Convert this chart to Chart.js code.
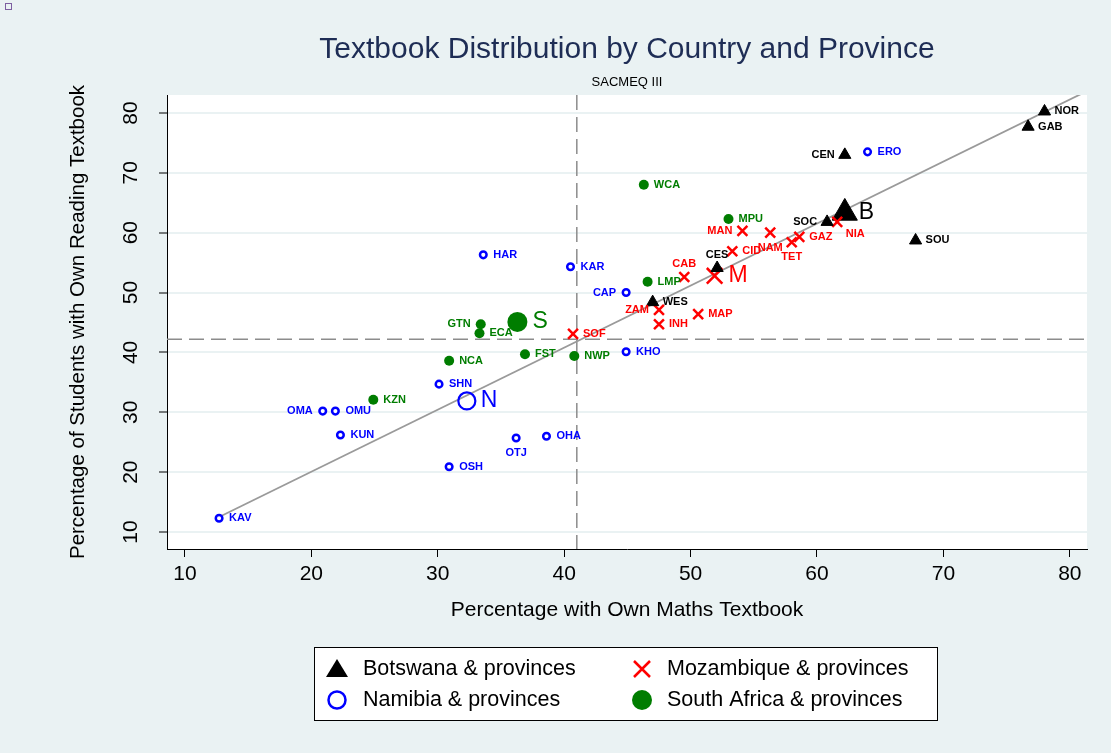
<!DOCTYPE html>
<html lang="en">
<head>
<meta charset="UTF-8">
<title>Textbook Distribution by Country and Province</title>
<script src="https://cdn.jsdelivr.net/npm/chart.js"></script>
<style>
  html, body { margin: 0; padding: 0; background: #eaf2f3; }
  #wrap { position: relative; width: 1111px; height: 753px; }
  .corner { position: absolute; left: 5px; top: 3px; width: 5px; height: 5px; border: 1.5px solid #7d5fa0; }
</style>
</head>
<body>
<div id="wrap">
  <canvas id="chart" width="1111" height="753"></canvas>
  <div class="corner"></div>
</div>
<script>
// Botswana & provinces
const botLabels = ['NOR', 'GAB', 'CEN', 'SOC', 'SOU', 'CES', 'WES'];
const botX = [78.0, 76.7, 62.2, 60.8, 67.8, 52.1, 47.0];
const botY = [80.25, 77.7, 73.0, 61.8, 58.7, 54.1, 48.4];

// Namibia & provinces
const namLabels = ['ERO', 'HAR', 'KAR', 'CAP', 'KHO', 'SHN', 'OMA', 'OMU', 'KUN', 'OTJ', 'OHA', 'OSH', 'KAV'];
const namX = [64.0, 33.6, 40.5, 44.9, 44.9, 30.1, 20.9, 21.9, 22.3, 36.2, 38.6, 30.9, 12.7];
const namY = [73.5, 56.3, 54.3, 50.0, 40.1, 34.7, 30.2, 30.2, 26.2, 25.7, 26.0, 20.9, 12.3];

// Mozambique & provinces
const mozLabels = ['MAN', 'NAM', 'CID', 'TET', 'GAZ', 'NIA', 'CAB', 'ZAM', 'INH', 'MAP', 'SOF'];
const mozX = [54.1, 56.3, 53.3, 58.0, 58.6, 61.6, 49.5, 47.5, 47.5, 50.6, 40.7];
const mozY = [60.3, 60.0, 56.9, 58.4, 59.3, 61.8, 52.6, 47.1, 44.7, 46.4, 43.1];

// South Africa & provinces
const rsaLabels = ['WCA', 'MPU', 'LMP', 'GTN', 'ECA', 'FST', 'NWP', 'NCA', 'KZN'];
const rsaX = [46.3, 53.0, 46.6, 33.4, 33.3, 36.9, 40.8, 30.9, 24.9];
const rsaY = [68.0, 62.3, 51.8, 44.7, 43.2, 39.7, 39.4, 38.6, 32.1];

// national averages (B, N, M, S)
const natLabels = ['B', 'N', 'M', 'S'];
const natX = [62.2, 32.3, 51.9, 36.3];
const natY = [63.3, 31.9, 52.8, 45.1];

// fitted line and SACMEQ reference lines
const fitX = [12.7, 81.5];
const fitY = [12.5, 83.8];
const xRef = 41.0;
const yRef = 42.2;

const xTicks = [10, 20, 30, 40, 50, 60, 70, 80];
const yTicks = [10, 20, 30, 40, 50, 60, 70, 80];

// label placement (r = right, l = left, t = above, b = below, br = below right)
const botPos = ['r', 'r', 'l', 'l', 'r', 't', 'r'];
const namPos = ['r', 'r', 'r', 'l', 'r', 'r', 'l', 'r', 'r', 'b', 'r', 'r', 'r'];
const mozPos = ['l', 'b', 'r', 'b', 'r', 'br', 't', 'l', 'r', 'r', 'r'];
const rsaPos = ['r', 'r', 'r', 'l', 'r', 'r', 'r', 'r', 'r'];

const BLUE = '#0000ff', RED = '#ff0000', GREEN = '#007d00', BLACK = '#000000';
const BG = '#eaf2f3';
const FONT = 'Arial, "Liberation Sans", sans-serif';

const pts = (xs, ys) => xs.map((x, i) => ({ x: x, y: ys[i] }));

const smallLabel = 'bold 11px ' + FONT;
const bigLabel = '23px ' + FONT;

const datasets = [
    {
        label: 'Botswana & provinces', data: pts(botX, botY),
        pointStyle: 'triangle', pointRadius: 7, backgroundColor: BLACK, borderColor: BLACK, borderWidth: 1,
        pointLabels: botLabels, labelPos: botPos, labelColor: BLACK, labelFont: smallLabel, labelOffset: 10
    },
    {
        label: 'Namibia & provinces', data: pts(namX, namY),
        pointStyle: 'circle', pointRadius: 3.3, backgroundColor: '#ffffff', borderColor: BLUE, borderWidth: 2.5,
        pointLabels: namLabels, labelPos: namPos, labelColor: BLUE, labelFont: smallLabel, labelOffset: 10
    },
    {
        label: 'Mozambique & provinces', data: pts(mozX, mozY),
        pointStyle: 'crossRot', pointRadius: 7, backgroundColor: RED, borderColor: RED, borderWidth: 2.5,
        pointLabels: mozLabels, labelPos: mozPos, labelColor: RED, labelFont: smallLabel, labelOffset: 10
    },
    {
        label: 'South Africa & provinces', data: pts(rsaX, rsaY),
        pointStyle: 'circle', pointRadius: 5, backgroundColor: GREEN, borderColor: GREEN, borderWidth: 0,
        pointLabels: rsaLabels, labelPos: rsaPos, labelColor: GREEN, labelFont: smallLabel, labelOffset: 10
    },
    {
        label: 'Botswana', data: [{ x: natX[0], y: natY[0] }],
        pointStyle: 'triangle', pointRadius: 14.5, backgroundColor: BLACK, borderColor: BLACK, borderWidth: 1,
        pointLabels: [natLabels[0]], labelPos: ['r'], labelColor: BLACK, labelFont: bigLabel, labelOffset: 14
    },
    {
        label: 'Namibia', data: [{ x: natX[1], y: natY[1] }],
        pointStyle: 'circle', pointRadius: 8.5, backgroundColor: 'rgba(255,255,255,0)', borderColor: BLUE, borderWidth: 2.2,
        pointLabels: [natLabels[1]], labelPos: ['r'], labelColor: BLUE, labelFont: bigLabel, labelOffset: 14
    },
    {
        label: 'Mozambique', data: [{ x: natX[2], y: natY[2] }],
        pointStyle: 'crossRot', pointRadius: 11, backgroundColor: RED, borderColor: RED, borderWidth: 2.5,
        pointLabels: [natLabels[2]], labelPos: ['r'], labelColor: RED, labelFont: bigLabel, labelOffset: 14
    },
    {
        label: 'South Africa', data: [{ x: natX[3], y: natY[3] }],
        pointStyle: 'circle', pointRadius: 10, backgroundColor: GREEN, borderColor: GREEN, borderWidth: 0,
        pointLabels: [natLabels[3]], labelPos: ['r'], labelColor: GREEN, labelFont: bigLabel, labelOffset: 15
    },
    {
        type: 'line', label: 'fit', data: pts(fitX, fitY), order: 10,
        showLine: true, pointRadius: 0, borderColor: '#9a9a9a', borderWidth: 1.8, fill: false
    }
];

// background: bluish-grey page, white plot region
const backdrop = {
    id: 'backdrop',
    beforeDraw(chart) {
        const { ctx, chartArea: a } = chart;
        ctx.save();
        ctx.fillStyle = BG;
        ctx.fillRect(0, 0, chart.width, chart.height);
        ctx.fillStyle = '#ffffff';
        ctx.fillRect(a.left, a.top, a.right - a.left, a.bottom - a.top);
        ctx.restore();
    }
};

// dashed SACMEQ reference lines
const refLines = {
    id: 'refLines',
    beforeDatasetsDraw(chart) {
        const { ctx, chartArea: a, scales } = chart;
        const px = scales.x.getPixelForValue(xRef);
        const py = scales.y.getPixelForValue(yRef);
        ctx.save();
        ctx.strokeStyle = '#8c8c8c';
        ctx.lineWidth = 1.5;
        ctx.setLineDash([15, 7]);
        ctx.beginPath();
        ctx.moveTo(a.left, py); ctx.lineTo(a.right, py);
        ctx.moveTo(px, a.top); ctx.lineTo(px, a.bottom);
        ctx.stroke();
        ctx.restore();
    }
};

// point labels
const pointLabels = {
    id: 'pointLabels',
    afterDatasetsDraw(chart) {
        const ctx = chart.ctx;
        chart.data.datasets.forEach((ds, i) => {
            if (!ds.pointLabels) return;
            const meta = chart.getDatasetMeta(i);
            ctx.save();
            ctx.font = ds.labelFont;
            ctx.fillStyle = ds.labelColor;
            ctx.textBaseline = 'middle';
            meta.data.forEach((el, j) => {
                const pos = ds.labelPos[j];
                let x = el.x, y = el.y;
                if (pos === 'r') { ctx.textAlign = 'left'; x += ds.labelOffset; }
                else if (pos === 'l') { ctx.textAlign = 'right'; x -= ds.labelOffset; }
                else if (pos === 't') { ctx.textAlign = 'center'; y -= 13; }
                else if (pos === 'b') { ctx.textAlign = 'center'; y += 15; }
                else if (pos === 'br') { ctx.textAlign = 'center'; x += 18; y += 12; }
                ctx.fillText(ds.pointLabels[j], x, y);
            });
            ctx.restore();
        });
    }
};

// titles, axis titles and the boxed legend
const decorations = {
    id: 'decorations',
    afterDraw(chart) {
        const { ctx, chartArea: a } = chart;
        const cx = (a.left + a.right) / 2;
        const cy = (a.top + a.bottom) / 2;
        ctx.save();
        ctx.textAlign = 'center';
        ctx.textBaseline = 'middle';

        ctx.fillStyle = '#1e2d55';
        ctx.font = '30px ' + FONT;
        ctx.fillText('Textbook Distribution by Country and Province', cx, 50);

        ctx.fillStyle = '#000';
        ctx.font = '13px ' + FONT;
        ctx.fillText('SACMEQ III', cx, 82);

        ctx.font = '21px ' + FONT;
        ctx.fillText('Percentage with Own Maths Textbook', cx, 610);

        ctx.save();
        ctx.translate(78, cy);
        ctx.rotate(-Math.PI / 2);
        ctx.font = '20.5px ' + FONT;
        ctx.fillText('Percentage of Students with Own Reading Textbook', 0, 0);
        ctx.restore();

        // legend box
        const L = 314, T = 647, R = 937, B = 720;
        ctx.fillStyle = '#ffffff';
        ctx.fillRect(L, T, R - L, B - T);
        ctx.strokeStyle = '#000';
        ctx.lineWidth = 1;
        ctx.strokeRect(L + 0.5, T + 0.5, R - L, B - T);

        const r1 = 669, r2 = 700, c1 = 337, c2 = 642;
        // triangle
        ctx.fillStyle = BLACK;
        ctx.beginPath();
        ctx.moveTo(c1, r1 - 10); ctx.lineTo(c1 + 11, r1 + 8); ctx.lineTo(c1 - 11, r1 + 8);
        ctx.closePath(); ctx.fill();
        // hollow circle
        ctx.strokeStyle = BLUE; ctx.lineWidth = 2.5;
        ctx.beginPath(); ctx.arc(c1, r2, 8.5, 0, Math.PI * 2); ctx.stroke();
        // cross
        ctx.strokeStyle = RED; ctx.lineWidth = 2.5;
        ctx.beginPath();
        ctx.moveTo(c2 - 8, r1 - 8); ctx.lineTo(c2 + 8, r1 + 8);
        ctx.moveTo(c2 + 8, r1 - 8); ctx.lineTo(c2 - 8, r1 + 8);
        ctx.stroke();
        // filled circle
        ctx.fillStyle = GREEN;
        ctx.beginPath(); ctx.arc(c2, r2, 10, 0, Math.PI * 2); ctx.fill();

        ctx.fillStyle = '#000';
        ctx.textAlign = 'left';
        ctx.font = '21.5px ' + FONT;
        ctx.fillText('Botswana & provinces', 363, r1);
        ctx.fillText('Namibia & provinces', 363, r2);
        ctx.fillText('Mozambique & provinces', 667, r1);
        ctx.fillText('South Africa & provinces', 667, r2);
        ctx.restore();
    }
};

new Chart(document.getElementById('chart'), {
    type: 'scatter',
    data: { datasets: datasets },
    options: {
        responsive: false,
        animation: false,
        layout: { padding: { left: 0, right: 24, top: 95, bottom: 0 } },
        plugins: { legend: { display: false }, tooltip: { enabled: false } },
        scales: {
            x: {
                type: 'linear', min: 8.58, max: 81.36,
                afterBuildTicks: s => { s.ticks = xTicks.map(v => ({ value: v })); },
                afterFit: s => { s.height = 204; },
                ticks: { color: '#000', font: { family: FONT, size: 21 }, padding: 5 },
                grid: { drawOnChartArea: false, tickColor: '#000', tickLength: 8, tickWidth: 1 },
                border: { display: true, color: '#000', width: 1 }
            },
            y: {
                type: 'linear', min: 7.16, max: 83.0,
                afterBuildTicks: s => { s.ticks = yTicks.map(v => ({ value: v })); },
                afterFit: s => { s.width = 167; },
                ticks: { color: '#000', font: { family: FONT, size: 21 }, padding: 16,
                         minRotation: 90, maxRotation: 90, crossAlign: 'center' },
                grid: { color: BG, lineWidth: 2, tickColor: '#000', tickLength: 8, tickWidth: 1 },
                border: { display: true, color: '#000', width: 1 }
            }
        }
    },
    plugins: [backdrop, refLines, pointLabels, decorations]
});
</script>
</body>
</html>
